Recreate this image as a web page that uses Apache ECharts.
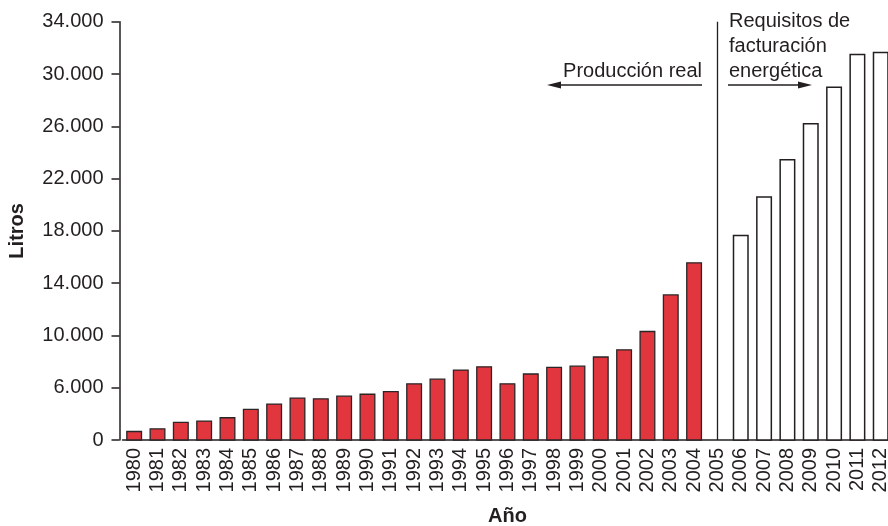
<!DOCTYPE html>
<html>
<head>
<meta charset="utf-8">
<script src="https://cdn.jsdelivr.net/npm/echarts@6/dist/echarts.min.js"></script>
<style>
html,body{margin:0;padding:0;background:#fff;}
#chart{width:888px;height:526px;}
</style>
</head>
<body>
<div id="chart"></div>
<script>
var years = ['1980','1981','1982','1983','1984','1985','1986','1987','1988','1989','1990','1991','1992','1993','1994','1995','1996','1997','1998','1999','2000','2001','2002','2003','2004','2005','2006','2007','2008','2009','2010','2011','2012'];
var produccionReal = [2700,2900,3400,3500,3750,4400,4800,5250,5200,5400,5550,5750,6350,6700,7400,7650,6350,7100,7600,7700,8400,8950,10350,13150,15600,null,null,null,null,null,null,null,null];
var requisitosFacturacion = [null,null,null,null,null,null,null,null,null,null,null,null,null,null,null,null,null,null,null,null,null,null,null,null,null,null,17700,20650,23500,26250,29050,31550,31700];
var yTickLabels = {2000:'0',6000:'6.000',10000:'10.000',14000:'14.000',18000:'18.000',22000:'22.000',26000:'26.000',30000:'30.000',34000:'34.000'};

var FONT = '"Liberation Sans", Arial, sans-serif';
var INK = '#231f20';

var chart = echarts.init(document.getElementById('chart'), null, {renderer:'canvas'});
chart.setOption({
  animation: false,
  backgroundColor: '#ffffff',
  grid: {left: 122.5, right: -4.4, top: 21.7, bottom: 86, containLabel: false, outerBoundsMode: 'none'},
  xAxis: {
    type: 'category',
    data: years,
    boundaryGap: true,
    name: 'Año',
    nameLocation: 'middle',
    nameGap: 66,
    nameTextStyle: {fontFamily: FONT, fontSize: 20, fontWeight: 'bold', color: INK},
    axisLine: {lineStyle: {color: INK, width: 1.5}},
    axisTick: {show: false},
    axisLabel: {rotate: 90, margin: 8, interval: 0, fontFamily: FONT, fontSize: 20, color: INK}
  },
  yAxis: {
    type: 'value',
    min: 2000,
    max: 34000,
    interval: 4000,
    offset: 3,
    name: 'Litros',
    nameLocation: 'middle',
    nameGap: 92,
    nameTextStyle: {fontFamily: FONT, fontSize: 20, fontWeight: 'bold', color: INK},
    axisLine: {show: true, lineStyle: {color: INK, width: 1.5}},
    axisTick: {show: true, length: 8, lineStyle: {color: INK, width: 1.5}},
    splitLine: {show: false},
    axisLabel: {margin: 16, fontFamily: FONT, fontSize: 20, color: INK,
      formatter: function (v) { return yTickLabels[v] !== undefined ? yTickLabels[v] : ''; }}
  },
  series: [
    {
      name: 'Producción real',
      type: 'bar',
      data: produccionReal,
      barWidth: 16,
      barGap: '-100%',
      itemStyle: {color: '#e2363f', borderColor: '#2a2526', borderWidth: 1.3}
    },
    {
      name: 'Requisitos de facturación energética',
      type: 'bar',
      data: requisitosFacturacion,
      barWidth: 16,
      barGap: '-100%',
      itemStyle: {color: '#ffffff', borderColor: INK, borderWidth: 1.5},
      markLine: {
        silent: true,
        symbol: ['none', 'none'],
        label: {show: false},
        lineStyle: {color: INK, width: 1.3, type: 'solid'},
        data: [[{coord: ['2005', 2000]}, {coord: ['2005', 34000]}]]
      }
    }
  ],
  graphic: [
    {type: 'text', x: 702, y: 71.5, style: {text: 'Producción real', font: '20px ' + FONT, fill: INK, textAlign: 'right', textVerticalAlign: 'middle'}},
    {type: 'text', x: 729, y: 21.5, style: {text: 'Requisitos de', font: '20px ' + FONT, fill: INK, textAlign: 'left', textVerticalAlign: 'middle'}},
    {type: 'text', x: 729, y: 46.5, style: {text: 'facturación', font: '20px ' + FONT, fill: INK, textAlign: 'left', textVerticalAlign: 'middle'}},
    {type: 'text', x: 729, y: 71.5, style: {text: 'energética', font: '20px ' + FONT, fill: INK, textAlign: 'left', textVerticalAlign: 'middle'}},
    {type: 'line', shape: {x1: 702, y1: 85, x2: 556, y2: 85}, style: {stroke: INK, lineWidth: 1.5}},
    {type: 'polygon', shape: {points: [[547, 85], [561, 81.5], [561, 88.5]]}, style: {fill: INK}},
    {type: 'line', shape: {x1: 728, y1: 85, x2: 803, y2: 85}, style: {stroke: INK, lineWidth: 1.5}},
    {type: 'polygon', shape: {points: [[812, 85], [798, 81.5], [798, 88.5]]}, style: {fill: INK}}
  ]
});
</script>
</body>
</html>
